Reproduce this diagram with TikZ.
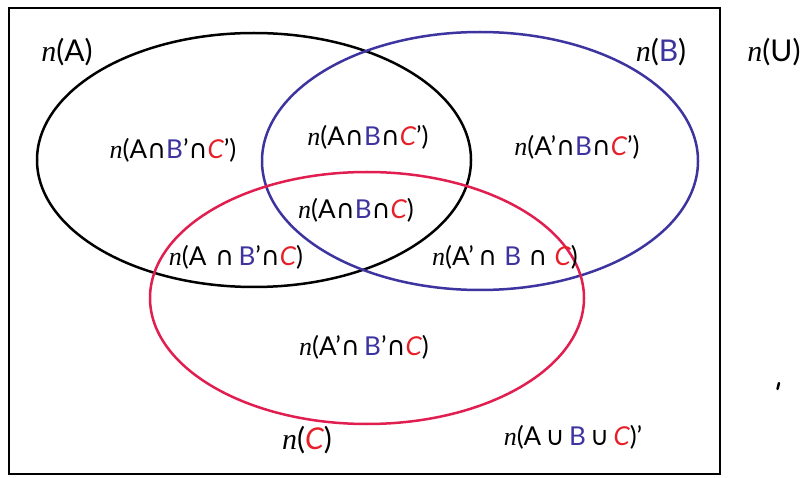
\documentclass[tikz,border=0pt]{standalone}
\usepackage{fontspec}
\setmainfont{Lato}
\newfontfamily\nfont{Liberation Serif}
\newfontfamily\symf{DejaVu Sans}
\definecolor{bluec}{RGB}{62,52,160}
\definecolor{redt}{RGB}{230,30,40}
\definecolor{rede}{RGB}{225,30,80}
\newcommand\nn{{\nfont\itshape n}}
\newcommand\cB[1]{\textcolor{bluec}{#1}}
\newcommand\cC[1]{\textcolor{redt}{\itshape #1}}
\newcommand\ii{{\symf\char"2229}}
\newcommand\uu{{\symf\char"222A}}
\begin{document}
\begin{tikzpicture}[x=1pt,y=-1pt,
  lbl/.style={font=\fontsize{26}{30}\selectfont, inner sep=0pt, anchor=center},
  biglbl/.style={font=\fontsize{30}{34}\selectfont, inner sep=0pt, anchor=center},
  setline/.style={line width=2.5}]
\useasboundingbox (0,0) rectangle (803,478);
\fill[white] (0,0) rectangle (803,478);
\draw[line width=2.8] (9,8) rectangle (720,474);
\draw[setline, black] (254,160) ellipse [x radius=217, y radius=127];
\draw[setline, bluec] (480,161) ellipse [x radius=218, y radius=129];
\draw[setline, rede] (367,298) ellipse [x radius=217, y radius=126];
\node[biglbl] (nA) at (67,52) {\nn(A)};
\node[biglbl] (nB) at (661,52) {\nn(\cB{B})};
\node[biglbl] (nU) at (774,52) {\nn(U)};
\node[lbl] (r1) at (173,150) {\nn(A\ii\cB{B}'\ii\cC{C}')};
\node[lbl] (r2) at (368,137) {\nn(A\ii\cB{B}\ii\cC{C}')};
\node[lbl] (r3) at (577,147) {\nn(A'\ii\cB{B}\ii\cC{C}')};
\node[lbl] (r4) at (356,210) {\nn(A\ii\cB{B}\ii\cC{C})};
\node[lbl] (r5) at (236,257) {\nn(A\,\,\ii\,\cB{B}'\ii\cC{C})};
\node[lbl] (r6) at (505,257) {\nn(A'\,\ii\;\cB{B}\;\ii\;\cC{C})};
\node[lbl] (r7) at (364,347) {\nn(A'\ii\,\cB{B}'\ii\cC{C})};
\node[biglbl] (nC) at (307,440) {\nn(\cC{C})};
\node[lbl] (r8) at (573,437) {\nn(A\,\uu\,\cB{B}\,\uu\,\cC{C})'};
\draw[line width=2.5, line cap=round] (777.5,389) -- (779,383);
\end{tikzpicture}
\end{document}
